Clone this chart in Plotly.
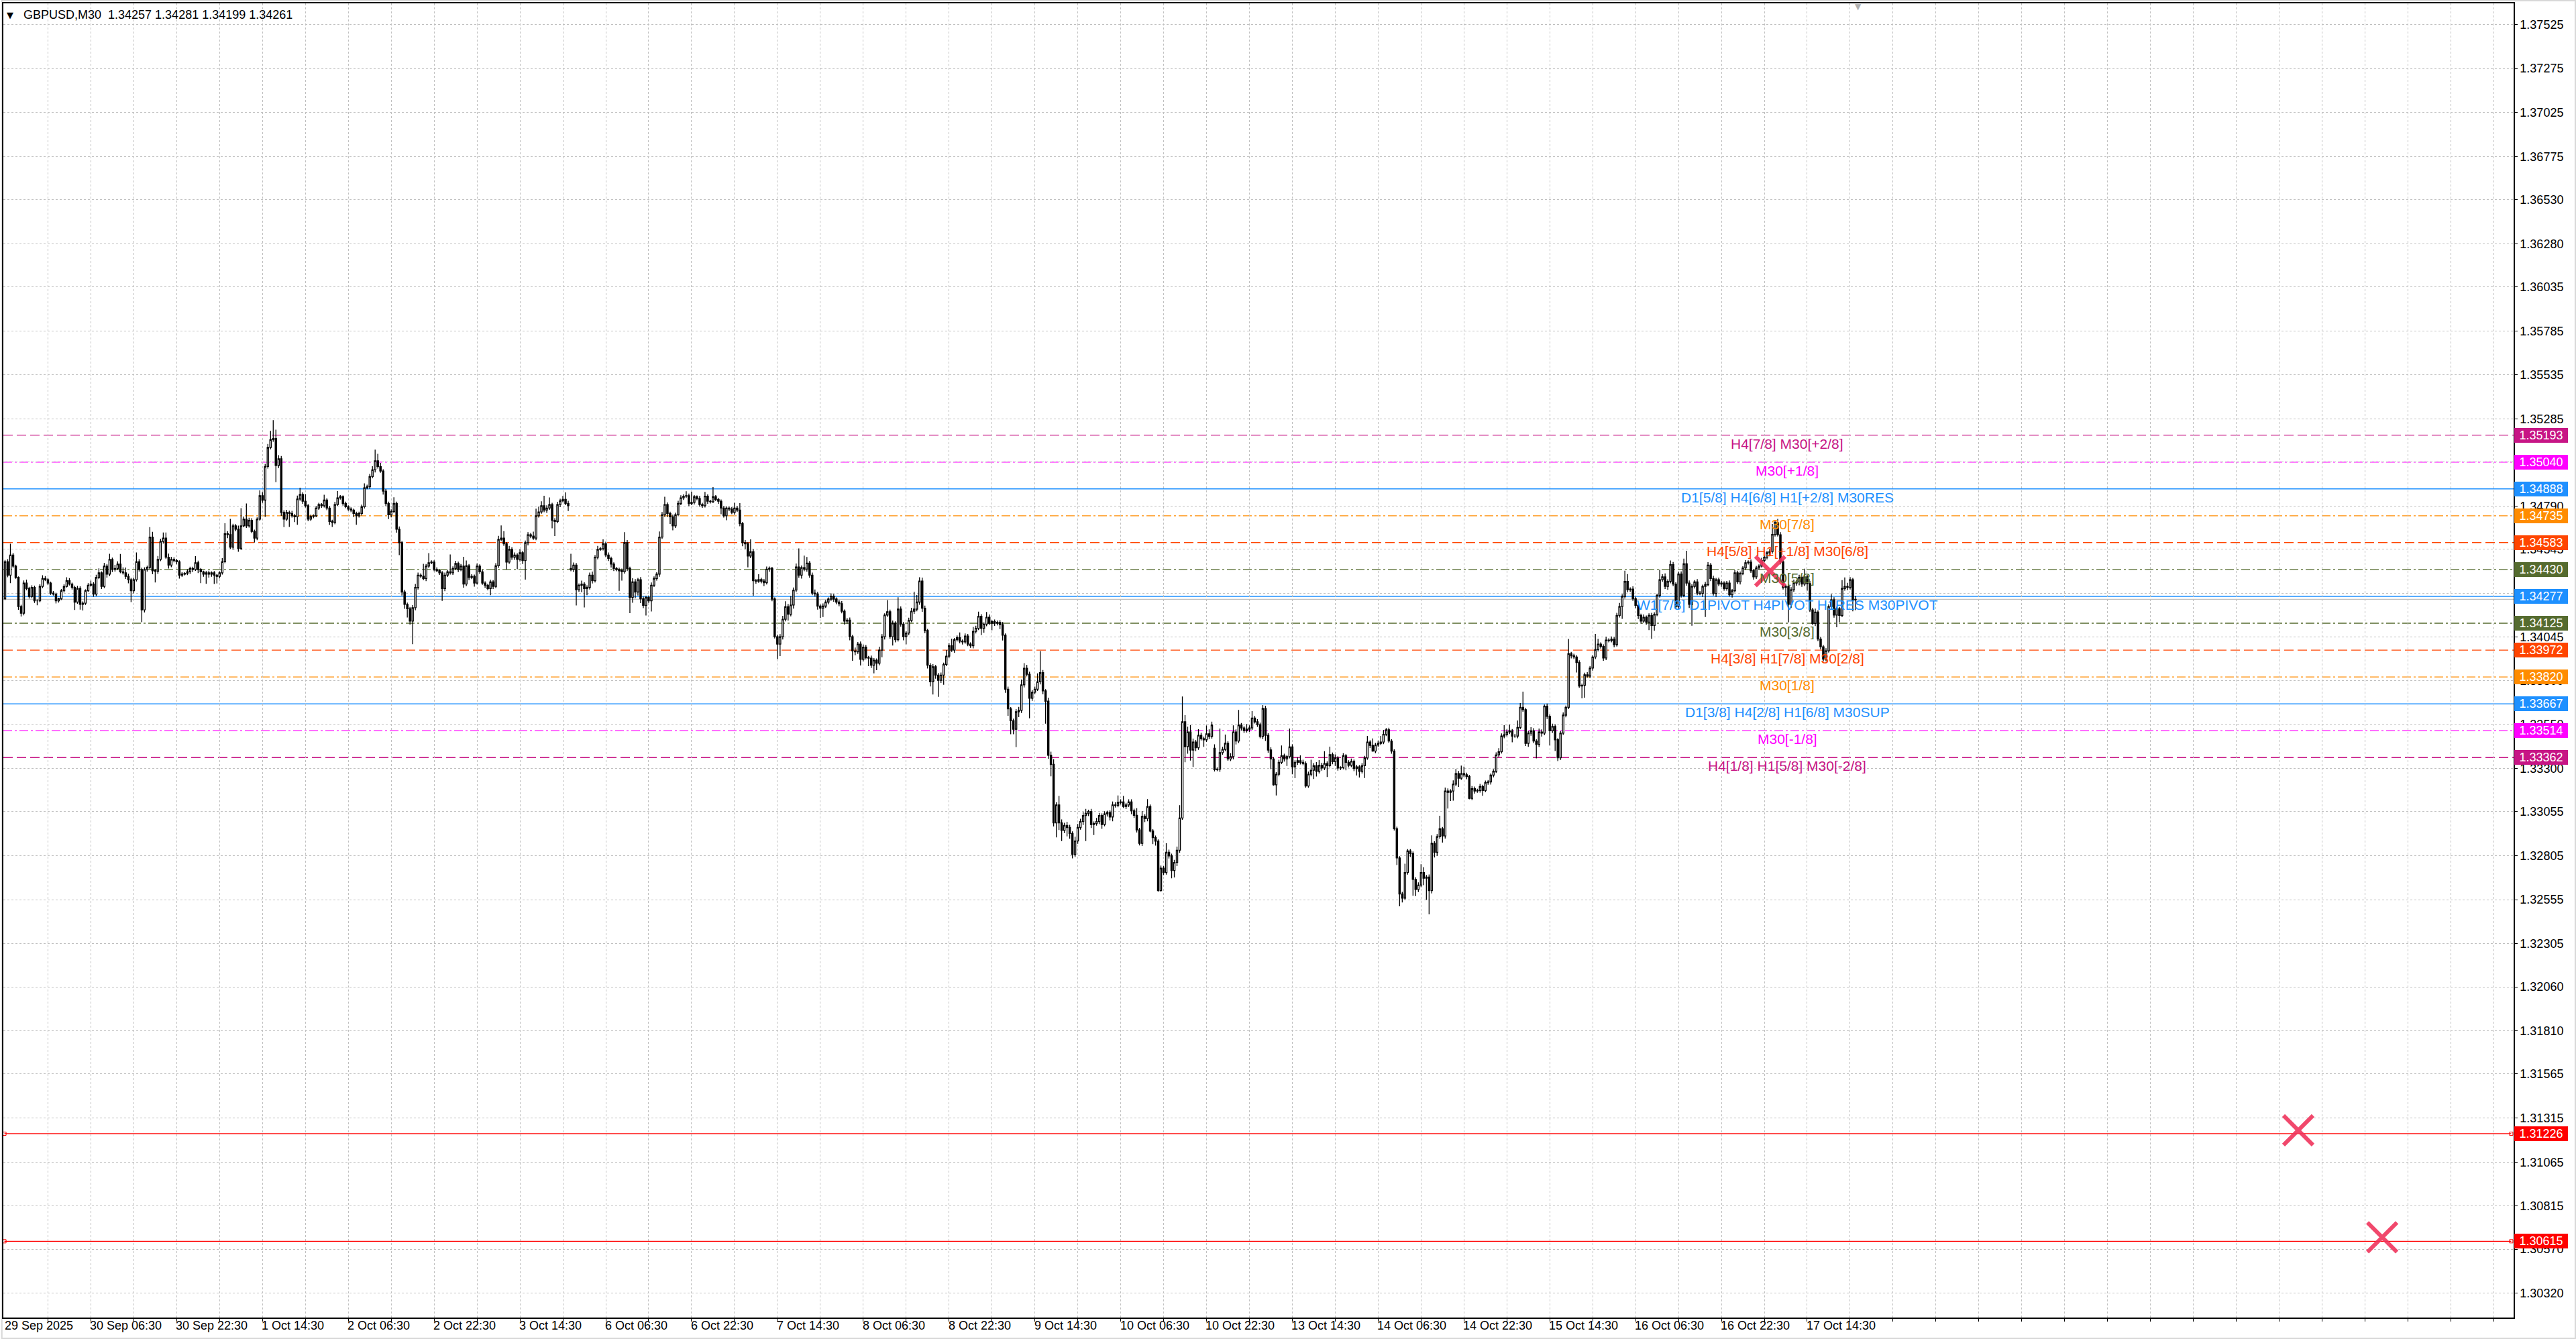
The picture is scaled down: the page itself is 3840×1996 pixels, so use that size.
import plotly.graph_objects as go

# GBPUSD M30 candles, prices in points: price = 1 + pts / 100000
first_open = 34264
gap_bars = [211, 451]          # Monday opens after the weekend
gap_open_pts = [34436, 33415]

close_pts = [
    34474, 34398, 34512, 34449, 34385, 34220, 34182, 34353, 34322, 34277,
    34328, 34252, 34252, 34334, 34379, 34372, 34353, 34296, 34290, 34252,
    34264, 34309, 34334, 34366, 34347, 34328, 34245, 34322, 34232, 34239,
    34309, 34341, 34347, 34290, 34385, 34411, 34334, 34449, 34404, 34487,
    34430, 34436, 34461, 34417, 34411, 34391, 34372, 34309, 34372, 34474,
    34430, 34201, 34430, 34442, 34614, 34423, 34420, 34487, 34589, 34608,
    34500, 34455, 34487, 34481, 34474, 34398, 34404, 34408, 34417, 34436,
    34430, 34468, 34430, 34417, 34404, 34411, 34404, 34411, 34398, 34391,
    34411, 34474, 34633, 34628, 34557, 34678, 34659, 34550, 34678, 34716,
    34678, 34709, 34646, 34608, 34716, 34849, 34824, 35015, 35123, 35167,
    35174, 35021, 35059, 34754, 34716, 34754, 34748, 34735, 34729, 34830,
    34856, 34818, 34792, 34716, 34731, 34735, 34779, 34799, 34792, 34824,
    34779, 34703, 34697, 34799, 34837, 34843, 34805, 34786, 34773, 34767,
    34748, 34735, 34748, 34786, 34894, 34900, 34958, 34996, 35047, 35015,
    34989, 34875, 34805, 34741, 34760, 34805, 34659, 34582, 34302, 34232,
    34207, 34137, 34213, 34328, 34398, 34392, 34379, 34449, 34468, 34472,
    34430, 34423, 34411, 34322, 34398, 34417, 34411, 34436, 34464, 34430,
    34449, 34347, 34451, 34385, 34391, 34353, 34449, 34417, 34353, 34341,
    34322, 34360, 34334, 34451, 34601, 34608, 34576, 34472, 34544, 34500,
    34512, 34487, 34525, 34481, 34582, 34627, 34620, 34608, 34735, 34757,
    34792, 34767, 34779, 34799, 34709, 34703, 34799, 34820, 34828, 34805,
    34792, 34430, 34455, 34315, 34341, 34347, 34322, 34328, 34398, 34366,
    34500, 34544, 34548, 34576, 34512, 34493, 34461, 34436, 34430, 34423,
    34417, 34582, 34436, 34271, 34360, 34302, 34372, 34264, 34226, 34271,
    34252, 34341, 34379, 34404, 34614, 34741, 34799, 34748, 34729, 34678,
    34741, 34805, 34837, 34846, 34849, 34805, 34811, 34843, 34833, 34799,
    34792, 34846, 34818, 34815, 34843, 34828, 34818, 34779, 34735, 34779,
    34773, 34754, 34779, 34767, 34690, 34582, 34576, 34506, 34531, 34366,
    34364, 34373, 34364, 34355, 34432, 34437, 34262, 34048, 34006, 34048,
    34147, 34219, 34176, 34228, 34313, 34444, 34398, 34441, 34432, 34466,
    34398, 34296, 34291, 34222, 34210, 34222, 34245, 34262, 34279, 34262,
    34245, 34236, 34193, 34137, 34142, 34048, 33967, 33963, 34006, 33920,
    33989, 33929, 33926, 33886, 33915, 33898, 33972, 34048, 34171, 34190,
    34048, 34125, 34031, 34205, 34120, 34048, 34069, 34141, 34193, 34205,
    34245, 34364, 34210, 34083, 33886, 33792, 33878, 33830, 33801, 33830,
    33891, 33938, 33997, 33972, 34031, 34043, 34023, 34019, 34052, 34006,
    33997, 34079, 34096, 34164, 34096, 34120, 34159, 34125, 34134, 34125,
    34130, 34117, 34057, 33750, 33639, 33571, 33523, 33622, 33630, 33775,
    33869, 33835, 33699, 33733, 33750, 33792, 33844, 33741, 33682, 33375,
    33323, 32991, 33093, 32991, 32948, 32977, 32965, 32931, 32812, 32888,
    32965, 32999, 33033, 33045, 33056, 32982, 32987, 32999, 33033, 32982,
    33042, 33050, 33025, 33093, 33090, 33107, 33110, 33085, 33093, 33110,
    33060, 33034, 32951, 32875, 33028, 33015, 33083, 32945, 32907, 32887,
    32606, 32734, 32709, 32824, 32804, 32721, 32766, 32836, 33019, 33565,
    33424, 33507, 33405, 33450, 33418, 33488, 33469, 33463, 33497, 33482,
    33546, 33293, 33296, 33390, 33408, 33443, 33354, 33367, 33507, 33456,
    33546, 33530, 33514, 33523, 33530, 33586, 33565, 33548, 33482, 33641,
    33488, 33405, 33354, 33207, 33267, 33335, 33372, 33354, 33367, 33422,
    33309, 33335, 33344, 33335, 33328, 33201, 33267, 33290, 33316, 33284,
    33318, 33303, 33328, 33316, 33379, 33339, 33360, 33303, 33305, 33372,
    33335, 33318, 33341, 33300, 33309, 33284, 33316, 33360, 33450, 33431,
    33399, 33433, 33443, 33450, 33494, 33520, 33456, 33399, 32958, 32792,
    32587, 32564, 32709, 32832, 32817, 32670, 32613, 32638, 32709, 32677,
    32683, 32606, 32875, 32824, 32913, 32958, 32917, 33172, 33165, 33172,
    33211, 33271, 33245, 33271, 33264, 33254, 33130, 33185, 33172, 33175,
    33198, 33175, 33220, 33224, 33262, 33284, 33377, 33395, 33484, 33492,
    33507, 33514, 33484, 33484, 33533, 33647, 33634, 33443, 33501, 33514,
    33456, 33437, 33507, 33501, 33654, 33596, 33514, 33539, 33463, 33361,
    33501, 33603, 33647, 33952, 33940, 33933, 33902, 33768, 33772, 33832,
    33825, 33870, 33933, 33975, 34006, 33993, 33927, 34029, 34026, 34035,
    34003, 34169, 34220, 34277, 34362, 34315, 34319, 34264, 34226, 34169,
    34137, 34159, 34131, 34169, 34112, 34175, 34283, 34372, 34388, 34334,
    34362, 34458, 34347, 34220, 34404, 34283, 34462, 34353, 34232, 34334,
    34360, 34296, 34294, 34334, 34344, 34455, 34379, 34294, 34372, 34347,
    34353, 34322, 34353, 34286, 34309, 34411, 34360, 34408, 34439, 34468,
    34472, 34423, 34388, 34439, 34449, 34481, 34500, 34525, 34532, 34629,
    34697, 34627, 34474, 34328, 34334, 34232, 34315, 34353, 34360, 34385,
    34347, 34388, 34350, 34201, 34124, 34188, 34035, 33991, 33921, 33968,
    34220, 34258, 34171, 34207, 34169, 34322, 34334, 34328, 34372, 34257,
    34261,
]

# upper / lower shadow lengths, points
wick_up = [
    10, 15, 64, 12, 8, 6, 10, 15, 20, 10,
    12, 10, 8, 12, 18, 14, 10, 8, 12, 8,
    6, 10, 12, 20, 15, 8, 10, 15, 12, 10,
    8, 12, 20, 10, 15, 25, 8, 19, 12, 32,
    10, 20, 15, 57, 25, 30, 15, 10, 12, 53,
    15, 10, 12, 10, 57, 30, 10, 20, 15, 32,
    32, 20, 15, 12, 10, 8, 10, 6, 15, 10,
    10, 38, 12, 8, 6, 10, 12, 8, 10, 6,
    8, 20, 60, 15, 89, 12, 10, 20, 100, 15,
    89, 15, 12, 10, 10, 30, 20, 15, 20, 50,
    104, 50, 20, 15, 12, 15, 10, 15, 10, 20,
    38, 12, 40, 10, 10, 8, 12, 10, 8, 30,
    10, 12, 10, 15, 38, 10, 8, 10, 8, 10,
    8, 10, 10, 12, 25, 12, 15, 20, 64, 40,
    20, 10, 12, 10, 12, 35, 10, 15, 10, 12,
    10, 10, 15, 20, 15, 10, 70, 12, 55, 10,
    10, 12, 8, 10, 15, 12, 98, 12, 15, 10,
    12, 53, 30, 10, 12, 10, 15, 10, 12, 10,
    8, 12, 10, 15, 20, 72, 40, 10, 20, 12,
    15, 10, 20, 10, 12, 15, 10, 25, 40, 30,
    25, 57, 15, 40, 10, 12, 15, 12, 20, 40,
    15, 83, 15, 12, 10, 20, 10, 12, 15, 20,
    12, 20, 10, 25, 12, 15, 10, 10, 8, 10,
    12, 60, 15, 10, 20, 15, 10, 15, 12, 10,
    10, 15, 12, 10, 32, 15, 44, 12, 10, 12,
    12, 15, 15, 10, 25, 12, 61, 10, 8, 15,
    10, 25, 10, 8, 55, 10, 8, 10, 12, 10,
    8, 12, 30, 12, 40, 10, 15, 10, 70, 15,
    10, 30, 10, 12, 15, 10, 8, 10, 12, 15,
    20, 31, 15, 51, 15, 20, 106, 12, 68, 35,
    12, 15, 20, 12, 10, 15, 12, 10, 15, 12,
    10, 12, 15, 10, 12, 15, 10, 20, 12, 15,
    15, 12, 10, 15, 12, 10, 20, 15, 10, 66,
    12, 15, 10, 68, 15, 12, 10, 15, 20, 99,
    40, 22, 20, 15, 10, 12, 15, 10, 12, 15,
    10, 35, 15, 40, 10, 12, 30, 10, 15, 12,
    10, 25, 15, 27, 12, 10, 30, 15, 10, 12,
    10, 12, 15, 10, 15, 10, 12, 15, 20, 30,
    29, 20, 15, 12, 15, 48, 123, 15, 10, 20,
    20, 30, 15, 51, 20, 15, 20, 15, 12, 25,
    20, 15, 20, 26, 10, 15, 12, 20, 15, 12,
    15, 10, 12, 20, 15, 40, 15, 34, 12, 15,
    15, 12, 40, 12, 30, 12, 43, 12, 10, 12,
    10, 15, 12, 51, 15, 12, 15, 20, 73, 144,
    38, 30, 40, 20, 12, 35, 15, 12, 47, 25,
    20, 22, 10, 137, 15, 50, 12, 20, 38, 15,
    87, 12, 10, 30, 15, 40, 12, 15, 12, 19,
    15, 12, 15, 10, 12, 15, 59, 12, 10, 105,
    15, 12, 20, 30, 15, 12, 15, 60, 15, 20,
    30, 15, 70, 12, 45, 12, 20, 10, 8, 15,
    10, 12, 15, 10, 12, 10, 15, 12, 35, 10,
    40, 12, 15, 35, 25, 10, 12, 10, 10, 12,
    10, 12, 50, 10, 10, 12, 12, 15, 47, 30,
    12, 15, 45, 12, 15, 74, 10, 20, 15, 10,
    22, 26, 15, 45, 40, 12, 10, 15, 12, 10,
    15, 10, 12, 10, 10, 12, 15, 20, 15, 54,
    15, 35, 10, 12, 40, 25, 89, 10, 12, 20,
    15, 10, 20, 15, 9, 15, 12, 15, 12, 10,
    12, 15, 10, 83, 10, 12, 10, 12, 10, 12,
    15, 12, 10, 89, 30, 10, 12, 20, 10, 15,
    12, 15, 20, 12, 61, 42, 10, 15, 12, 10,
    10, 15, 10, 12, 15, 12, 10, 57, 15, 20,
    12, 23, 15, 10, 12, 15, 30, 74, 15, 12,
    10, 15, 12, 10, 15, 17, 12, 15, 10, 12,
    12, 10, 12, 15, 10, 15, 12, 10, 10, 15,
    10, 15, 10, 12, 10, 15, 12, 10, 15, 60,
    10, 20, 15, 12, 10, 12, 15, 20, 12, 15,
    10, 46, 12, 15, 12, 20, 10, 12, 10, 15,
    12, 32, 15, 12, 10, 48, 51, 20, 15, 10,
    20,
]

wick_dn = [
    8, 12, 45, 10, 8, 19, 19, 12, 10, 12,
    10, 12, 25, 8, 10, 8, 12, 10, 8, 15,
    10, 8, 10, 6, 8, 12, 45, 10, 30, 35,
    10, 6, 8, 15, 12, 10, 15, 10, 20, 12,
    15, 12, 10, 8, 10, 15, 20, 64, 15, 10,
    12, 70, 15, 12, 10, 20, 64, 15, 10, 12,
    10, 20, 12, 10, 15, 20, 10, 8, 10, 12,
    15, 8, 20, 64, 15, 55, 20, 15, 50, 40,
    12, 10, 8, 20, 10, 15, 12, 19, 10, 8,
    12, 10, 10, 25, 12, 8, 15, 95, 12, 10,
    12, 95, 15, 20, 45, 10, 76, 10, 30, 45,
    10, 15, 10, 12, 10, 10, 8, 10, 12, 10,
    12, 20, 25, 10, 8, 10, 12, 8, 10, 12,
    20, 51, 10, 12, 10, 8, 12, 10, 15, 12,
    10, 20, 15, 25, 15, 10, 20, 70, 20, 25,
    50, 20, 131, 15, 12, 10, 10, 15, 10, 8,
    10, 8, 12, 70, 15, 10, 10, 12, 10, 15,
    10, 20, 12, 15, 10, 20, 8, 12, 10, 15,
    10, 38, 15, 10, 12, 10, 12, 42, 10, 15,
    15, 55, 12, 20, 108, 15, 12, 10, 12, 10,
    10, 12, 15, 10, 45, 83, 10, 15, 8, 10,
    30, 10, 15, 89, 12, 40, 108, 38, 12, 15,
    10, 12, 8, 10, 12, 15, 20, 15, 10, 114,
    50, 10, 15, 89, 30, 35, 20, 25, 15, 57,
    12, 60, 10, 12, 15, 10, 12, 20, 40, 25,
    12, 8, 10, 12, 10, 15, 10, 12, 10, 12,
    12, 10, 15, 10, 8, 10, 15, 35, 10, 25,
    12, 10, 12, 10, 15, 20, 30, 64, 12, 85,
    15, 10, 12, 20, 10, 15, 12, 10, 85, 68,
    15, 12, 36, 12, 20, 12, 15, 20, 12, 15,
    15, 12, 15, 20, 56, 50, 10, 12, 10, 15,
    12, 15, 12, 20, 15, 20, 55, 20, 12, 35,
    12, 10, 45, 15, 46, 40, 12, 40, 15, 10,
    12, 50, 15, 10, 15, 20, 43, 12, 10, 15,
    12, 15, 20, 15, 18, 26, 72, 20, 94, 15,
    55, 10, 12, 10, 15, 10, 12, 15, 10, 12,
    12, 15, 12, 10, 39, 25, 12, 10, 40, 15,
    12, 25, 30, 20, 40, 77, 29, 102, 30, 15,
    15, 12, 114, 15, 12, 10, 15, 20, 128, 20,
    68, 20, 82, 40, 60, 15, 51, 30, 22, 15,
    15, 12, 20, 145, 15, 20, 60, 12, 15, 25,
    10, 15, 20, 25, 12, 10, 12, 10, 15, 12,
    20, 15, 15, 12, 15, 20, 15, 8, 36, 25,
    5, 5, 15, 12, 15, 45, 40, 20, 15, 10,
    89, 40, 60, 96, 20, 12, 10, 40, 12, 15,
    12, 10, 8, 15, 12, 10, 10, 12, 15, 20,
    12, 15, 12, 10, 15, 12, 10, 12, 10, 15,
    32, 15, 58, 5, 60, 12, 10, 15, 40, 10,
    42, 64, 15, 12, 10, 10, 10, 12, 50, 30,
    12, 15, 12, 64, 10, 15, 25, 15, 12, 10,
    45, 12, 10, 15, 40, 35, 12, 70, 10, 15,
    4, 12, 10, 10, 12, 10, 10, 15, 10, 40,
    70, 25, 10, 12, 20, 93, 38, 15, 12, 40,
    124, 134, 15, 30, 20, 12, 38, 15, 92, 50,
    55, 12, 50, 10, 12, 15, 5, 10, 15, 10,
    12, 30, 10, 12, 15, 12, 10, 12, 10, 12,
    10, 12, 35, 10, 12, 10, 12, 15, 20, 15,
    12, 80, 15, 20, 12, 15, 83, 12, 64, 19,
    12, 10, 12, 10, 15, 12, 57, 10, 70, 70,
    10, 12, 15, 12, 10, 12, 15, 12, 10, 10,
    15, 10, 12, 70, 12, 15, 12, 12, 15, 20,
    15, 10, 15, 45, 76, 30, 10, 12, 12, 15,
    20, 10, 12, 15, 15, 12, 10, 15, 20, 121,
    12, 12, 10, 20, 174, 10, 15, 12, 20, 12,
    15, 12, 12, 10, 15, 10, 12, 15, 10, 12,
    10, 12, 15, 12, 10, 8, 10, 12, 20, 12,
    12, 10, 15, 12, 50, 102, 20, 12, 15, 20,
    15, 12, 40, 12, 10, 15, 12, 15, 13, 12,
    10, 12, 15, 69, 38, 10, 12, 15, 12, 64,
    58,
]

# time axis labels, one every 32 bars
time_labels = [
    "29 Sep 2025", "30 Sep 06:30", "30 Sep 22:30", "1 Oct 14:30", "2 Oct 06:30",
    "2 Oct 22:30", "3 Oct 14:30", "6 Oct 06:30", "6 Oct 22:30", "7 Oct 14:30",
    "8 Oct 06:30", "8 Oct 22:30", "9 Oct 14:30", "10 Oct 06:30", "10 Oct 22:30",
    "13 Oct 14:30", "14 Oct 06:30", "14 Oct 22:30", "15 Oct 14:30", "16 Oct 06:30",
    "16 Oct 22:30", "17 Oct 14:30",
]

price_ticks = [
    1.37525, 1.37275, 1.37025, 1.36775, 1.36530, 1.36280, 1.36035, 1.35785,
    1.35535, 1.35285, 1.35040, 1.34790, 1.34545, 1.34295, 1.34045, 1.33800,
    1.33550, 1.33300, 1.33055, 1.32805, 1.32555, 1.32305, 1.32060, 1.31810,
    1.31565, 1.31315, 1.31065, 1.30815, 1.30570, 1.30320,
]

# Murrey math levels
level_prices = [1.35193, 1.35040, 1.34888, 1.34735, 1.34583, 1.34430, 1.34277,
                1.34125, 1.33972, 1.33820, 1.33667, 1.33514, 1.33362]
level_names = [
    "H4[7/8] M30[+2/8]",
    "M30[+1/8]",
    "D1[5/8] H4[6/8] H1[+2/8] M30RES",
    "M30[7/8]",
    "H4[5/8] H1[+1/8] M30[6/8]",
    "M30[5/8]",
    "W1[7/8] D1PIVOT H4PIVOT H1RES M30PIVOT",
    "M30[3/8]",
    "H4[3/8] H1[7/8] M30[2/8]",
    "M30[1/8]",
    "D1[3/8] H4[2/8] H1[6/8] M30SUP",
    "M30[-1/8]",
    "H4[1/8] H1[5/8] M30[-2/8]",
]
stop_prices = [1.31226, 1.30615]

signal_bar = [658.2, 855.1, 886.4]
signal_price = [1.34421, 1.31245, 1.30638]

header = "GBPUSD,M30  1.34257 1.34281 1.34199 1.34261"

# ---- styles ----
VIOLET, MAGENTA, BLUE = "#C71585", "#FF00FF", "#1E90FF"
ORANGE, ORED, OLIVE = "#FF8C00", "#FF4500", "#556B2F"
LONG, DDOT = "14px,6px", "13px,4px,3px,4px"
level_styles = [
    (VIOLET, LONG), (MAGENTA, DDOT), (BLUE, "solid"), (ORANGE, DDOT),
    (ORED, LONG), (OLIVE, DDOT), (BLUE, "solid"), (OLIVE, DDOT),
    (ORED, LONG), (ORANGE, DDOT), (BLUE, "solid"), (MAGENTA, DDOT),
    (VIOLET, LONG),
]
FONT = "Liberation Sans, Arial, sans-serif"
GRID = "#C0C0C0"
W, H = 3840, 1996
ML, MR, MT, MB = 3, 93, 5, 32
X_RANGE = [-0.625, 935.4]
Y_RANGE = [1.30182, 1.37645]
LABEL_BAR = 664.5


def px(v):
    return 1 + v / 100000


n = len(close_pts)
bars = list(range(n))
opens, highs, lows = [], [], []
prev = first_open
for i in range(n):
    o = gap_open_pts[gap_bars.index(i)] if i in gap_bars else prev
    c = close_pts[i]
    opens.append(px(o))
    highs.append(px(max(o, c) + wick_up[i]))
    lows.append(px(min(o, c) - wick_dn[i]))
    prev = c
closes = [px(c) for c in close_pts]

fig = go.Figure()
fig.add_trace(go.Candlestick(
    x=bars, open=opens, high=highs, low=lows, close=closes,
    increasing=dict(line=dict(color="black", width=1.3), fillcolor="white"),
    decreasing=dict(line=dict(color="black", width=1.3), fillcolor="black"),
    whiskerwidth=0, hoverinfo="skip", showlegend=False,
))

# stop lines with small square handles
for p in stop_prices:
    fig.add_trace(go.Scatter(
        x=[X_RANGE[0] + 0.4, X_RANGE[1] - 0.9], y=[p, p], mode="lines+markers",
        line=dict(color="#FF0000", width=1.2),
        marker=dict(symbol="square-open", size=5, color="#FF0000", line=dict(width=1)),
        hoverinfo="skip", showlegend=False, cliponaxis=False,
    ))

fig.add_trace(go.Scatter(
    x=signal_bar, y=signal_price, mode="markers",
    marker=dict(symbol="x-thin", size=44,
                line=dict(color="rgba(240,52,92,0.9)", width=6)),
    hoverinfo="skip", showlegend=False,
))

shapes = []
annotations = []
for p, name, (col, dash) in zip(level_prices, level_names, level_styles):
    shapes.append(dict(type="line", xref="paper", x0=0, x1=1, yref="y", y0=p, y1=p,
                       layer="between",
                       line=dict(color=col, width=1.5 if dash == "solid" else 1.3, dash=dash)))
    annotations.append(dict(x=LABEL_BAR, y=p, xref="x", yref="y", text=name,
                            showarrow=False, xanchor="center", yanchor="top",
                            borderpad=0, font=dict(family=FONT, size=21, color=col)))
    annotations.append(dict(x=1, y=p, xref="paper", yref="y", text=f"{p:.5f}",
                            showarrow=False, xanchor="left", yanchor="middle",
                            xshift=1, width=76, height=18, align="center",
                            bgcolor=col, borderpad=2, borderwidth=0,
                            font=dict(family=FONT, size=18, color="white")))

for p in stop_prices:
    annotations.append(dict(x=1, y=p, xref="paper", yref="y", text=f"{p:.5f}",
                            showarrow=False, xanchor="left", yanchor="middle",
                            xshift=1, width=76, height=18, align="center",
                            bgcolor="#FF0000", borderpad=2, borderwidth=0,
                            font=dict(family=FONT, size=18, color="white")))

# bid line at the last close
shapes.append(dict(type="line", xref="paper", x0=0, x1=1, yref="y",
                   y0=closes[-1], y1=closes[-1], layer="between",
                   line=dict(color="#C0C0C0", width=1.3)))

# outer window frame
pw, ph = W - ML - MR, H - MT - MB
shapes.append(dict(type="rect", xref="paper", yref="paper",
                   x0=-ML / pw + 0.0002, x1=1 + (MR - 1) / pw,
                   y0=-(MB - 1) / ph, y1=1 + (MT - 1) / ph,
                   line=dict(color="#D8D8D8", width=2), layer="below"))

for k, lab in enumerate(time_labels):
    annotations.append(dict(x=k * 32, y=0, xref="x", yref="paper", text=lab,
                            showarrow=False, xanchor="left", yanchor="top",
                            xshift=-2, yshift=-1, borderpad=0,
                            font=dict(family=FONT, size=18, color="black")))

annotations.append(dict(x=0, y=1, xref="paper", yref="paper", text="▼",
                        showarrow=False, xanchor="center", yanchor="middle",
                        xshift=10, yshift=-17, borderpad=0,
                        font=dict(family="DejaVu Sans", size=13, color="black")))
annotations.append(dict(x=0, y=1, xref="paper", yref="paper", text=header,
                        showarrow=False, xanchor="left", yanchor="middle",
                        xshift=29, yshift=-17, borderpad=0,
                        font=dict(family=FONT, size=18, color="black")))
# chart shift marker at the top
annotations.append(dict(x=n, y=1, xref="x", yref="paper", text="▼",
                        showarrow=False, xanchor="center", yanchor="top",
                        yshift=3, borderpad=0,
                        font=dict(family="DejaVu Sans", size=12, color="#B0B0B0")))

fig.update_layout(
    width=W, height=H,
    margin=dict(l=ML, r=MR, t=MT, b=MB, pad=0),
    paper_bgcolor="white", plot_bgcolor="white",
    showlegend=False, hovermode=False, boxgap=0.22,
    shapes=shapes, annotations=annotations,
    xaxis=dict(
        range=X_RANGE, type="linear", rangeslider=dict(visible=False),
        tickvals=list(range(16, 936, 16)), showticklabels=False,
        ticks="outside", ticklen=4, tickcolor="black",
        showgrid=True, gridcolor=GRID, griddash="3px,3px", gridwidth=1,
        showline=True, linecolor="black", linewidth=1.5, mirror=True,
        zeroline=False, fixedrange=True,
    ),
    yaxis=dict(
        range=Y_RANGE, side="right",
        tickvals=price_ticks, ticktext=[f"{v:.5f}" for v in price_ticks],
        ticks="outside", ticklen=4, tickcolor="black",
        tickfont=dict(family=FONT, size=18, color="black"),
        showgrid=True, gridcolor=GRID, griddash="3px,3px", gridwidth=1,
        showline=True, linecolor="black", linewidth=1.5, mirror=True,
        zeroline=False, fixedrange=True,
    ),
)

fig.write_html("out.html", config={"displayModeBar": False},
               post_script="document.body.style.margin='0';")
